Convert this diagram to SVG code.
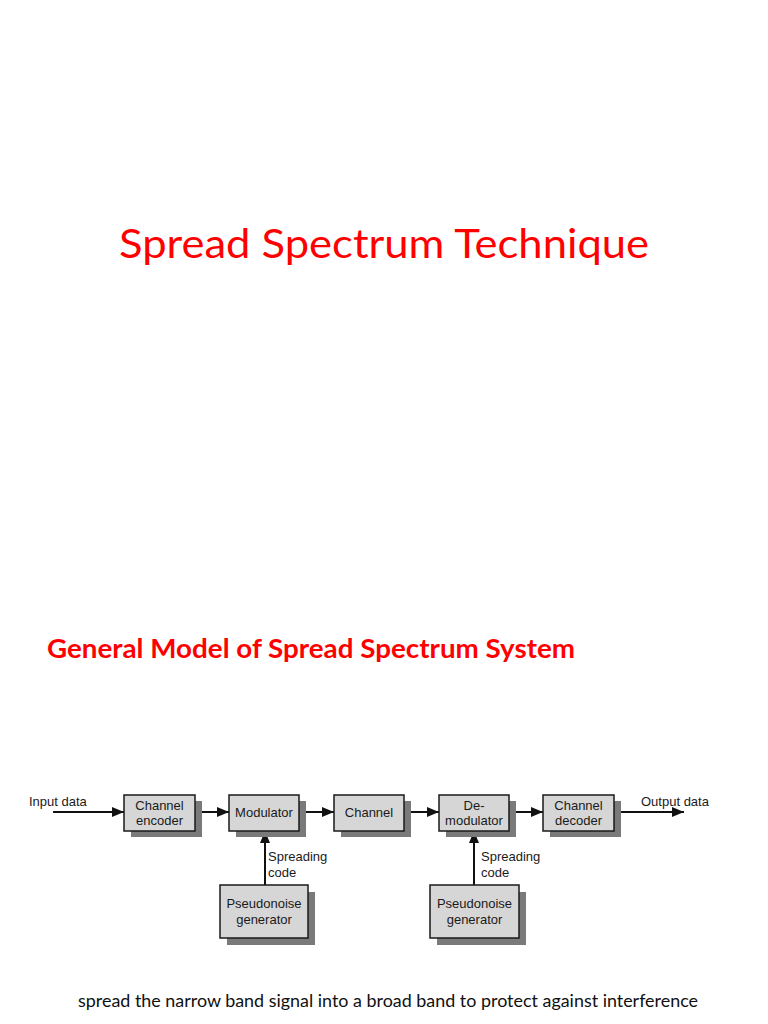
<svg xmlns="http://www.w3.org/2000/svg" width="768" height="1024" viewBox="0 0 768 1024">
<style>
.box{fill:#d6d6d6;stroke:#1a1a1a;stroke-width:1.5}
.sh{fill:#7a7a7a}
.t{font-family:"Liberation Sans",Arial,sans-serif;font-size:13px;fill:#1a1a1a}
.c{text-anchor:middle}
.ln{stroke:#111;stroke-width:2;fill:none}
</style>
<defs>
<marker id="ah" markerWidth="12" markerHeight="10" refX="12" refY="5" orient="auto" markerUnits="userSpaceOnUse">
<path d="M0,0 L12,5 L0,10 Z" fill="#111"/>
</marker>
</defs>
<rect width="768" height="1024" fill="#ffffff"/>
<text x="384" y="258" text-anchor="middle" font-family="Lato, 'DejaVu Sans', sans-serif" font-size="41" fill="#ff0000" textLength="530" lengthAdjust="spacingAndGlyphs">Spread Spectrum Technique</text>
<text x="47" y="658" font-family="Lato, 'DejaVu Sans', sans-serif" font-weight="bold" font-size="27" fill="#ff0000" textLength="528" lengthAdjust="spacingAndGlyphs">General Model of Spread Spectrum System</text>
<text x="78" y="1007" font-family="Lato, 'DejaVu Sans', sans-serif" font-size="16.5" fill="#111" textLength="620" lengthAdjust="spacingAndGlyphs">spread the narrow band signal into a broad band to protect against interference</text>

<g id="connectors">
<line class="ln" x1="53" y1="812" x2="124" y2="812" marker-end="url(#ah)"/>
<line class="ln" x1="195" y1="812" x2="229" y2="812" marker-end="url(#ah)"/>
<line class="ln" x1="299" y1="812" x2="334" y2="812" marker-end="url(#ah)"/>
<line class="ln" x1="404" y1="812" x2="439" y2="812" marker-end="url(#ah)"/>
<line class="ln" x1="509" y1="812" x2="543" y2="812" marker-end="url(#ah)"/>
<line class="ln" x1="614" y1="812" x2="684" y2="812" marker-end="url(#ah)"/>
<line class="ln" x1="265" y1="885" x2="265" y2="831" marker-end="url(#ah)"/>
<line class="ln" x1="474" y1="885" x2="474" y2="831" marker-end="url(#ah)"/>
<text class="t" x="29" y="806">Input data</text>
<text class="t" x="641" y="806">Output data</text>
<text class="t" x="268" y="861">Spreading</text>
<text class="t" x="268" y="877">code</text>
<text class="t" x="481" y="861">Spreading</text>
<text class="t" x="481" y="877">code</text>
</g>

<g id="channel-encoder">
<rect class="sh" x="131" y="801" width="71" height="36"/>
<rect class="box" x="124" y="795" width="71" height="36"/>
<text class="t c" x="159.5" y="810">Channel</text>
<text class="t c" x="159.5" y="825">encoder</text>
</g>
<g id="modulator">
<rect class="sh" x="236" y="801" width="70" height="36"/>
<rect class="box" x="229" y="795" width="70" height="36"/>
<text class="t c" x="264" y="817">Modulator</text>
</g>
<g id="channel">
<rect class="sh" x="341" y="801" width="70" height="36"/>
<rect class="box" x="334" y="795" width="70" height="36"/>
<text class="t c" x="369" y="817">Channel</text>
</g>
<g id="demodulator">
<rect class="sh" x="446" y="801" width="70" height="36"/>
<rect class="box" x="439" y="795" width="70" height="36"/>
<text class="t c" x="474" y="810">De-</text>
<text class="t c" x="474" y="825">modulator</text>
</g>
<g id="channel-decoder">
<rect class="sh" x="550" y="801" width="71" height="36"/>
<rect class="box" x="543" y="795" width="71" height="36"/>
<text class="t c" x="578.5" y="810">Channel</text>
<text class="t c" x="578.5" y="825">decoder</text>
</g>
<g id="pn-generator-1">
<rect class="sh" x="227" y="892" width="88" height="53"/>
<rect class="box" x="220" y="885" width="88" height="53"/>
<text class="t c" x="264" y="908">Pseudonoise</text>
<text class="t c" x="264" y="924">generator</text>
</g>
<g id="pn-generator-2">
<rect class="sh" x="437" y="892" width="89" height="53"/>
<rect class="box" x="430" y="885" width="89" height="53"/>
<text class="t c" x="474.5" y="908">Pseudonoise</text>
<text class="t c" x="474.5" y="924">generator</text>
</g>
</svg>
